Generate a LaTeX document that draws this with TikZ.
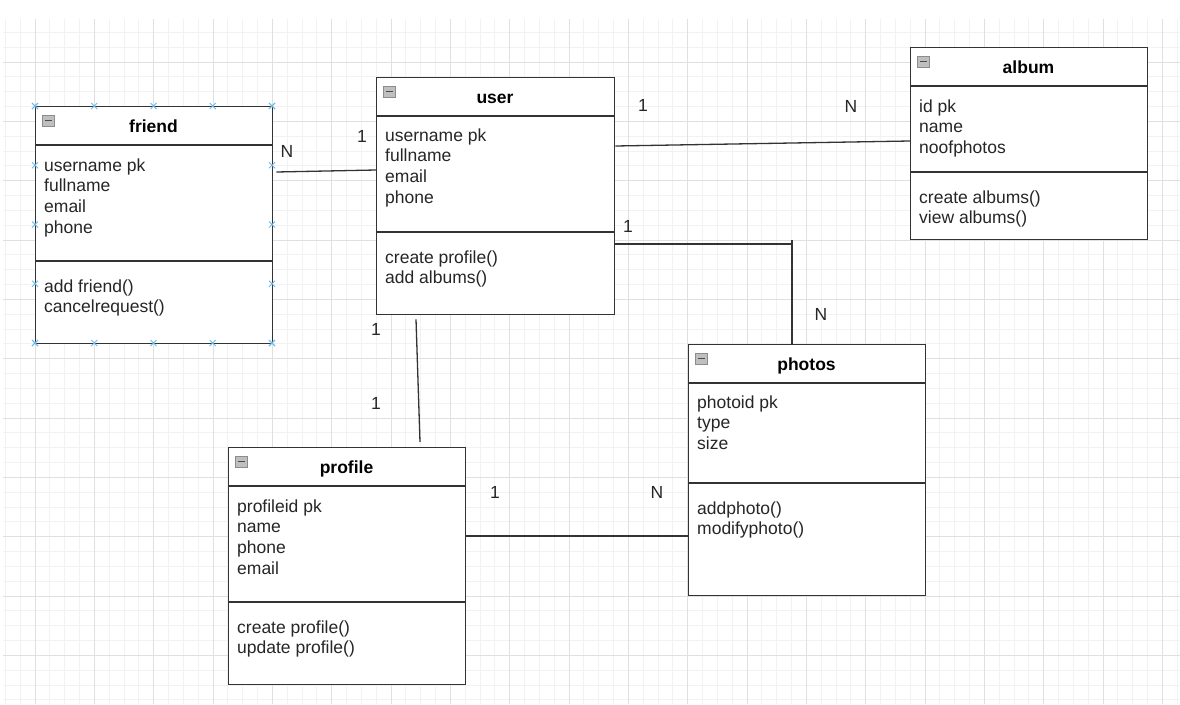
\documentclass[tikz,border=0pt]{standalone}
\usepackage{fontspec}
\setmainfont{Liberation Sans}
\usetikzlibrary{calc}
\definecolor{handleblue}{RGB}{110,185,235}

\tikzset{
  classbox/.style={draw=black!80, line width=1.3pt, fill=white, anchor=north west, inner sep=0pt},
  boxline/.style={draw=black!80, line width=1.3pt},
  title/.style={font=\bfseries\fontsize{17.5}{21}\selectfont, anchor=base, inner sep=0pt},
  attr/.style={font=\fontsize{17.5}{21}\selectfont, text=black!85, anchor=base west, inner sep=0pt},
  mult/.style={font=\fontsize{17.5}{21}\selectfont, text=black!85, inner sep=0pt},
  link/.style={draw=black!80, line width=1.3pt},
  minorgrid/.style={draw=black!5, line width=0.8pt},
  majorgrid/.style={draw=black!12, line width=0.8pt},
  handle/.style={draw=handleblue, line width=1pt},
  iconbox/.style={draw=black!45, fill=black!25, line width=0.6pt}
}

\begin{document}
\begin{tikzpicture}[x=1pt, y=-1pt]
\useasboundingbox (0,0) rectangle (1180,704);
\fill[white] (0,0) rectangle (1180,704);
% grid
\begin{scope}
\clip (3,19) rectangle (1180,704);
\foreach \k in {-2,...,77} \draw[minorgrid] ({35+14.833*\k},19) -- ++(0,685);
\foreach \k in {-3,...,43} \draw[minorgrid] (3,{62+14.833*\k}) -- ++(1177,0);
\foreach \k in {-1,...,19} \draw[majorgrid] ({35+59.333*\k},19) -- ++(0,685);
\foreach \k in {-1,...,11} \draw[majorgrid] (3,{62+59.333*\k}) -- ++(1177,0);
\end{scope}

% classes
\foreach \n/\x/\y/\w/\h/\d in {friend/35/106/237/237/155, user/376/77/238/237/155,
  album/910/47/237/192/125, photos/688/344/237/251/139, profile/228/447/237/237/155} {
  \node[classbox, minimum width=\w, minimum height=\h] (\n) at (\x,\y) {};
  \draw[boxline] ([shift={(0,39)}]\n.north west) -- ([shift={(0,39)}]\n.north east);
  \draw[boxline] ([shift={(0,\d)}]\n.north west) -- ([shift={(0,\d)}]\n.north east);
  \draw[iconbox] ([shift={(7,9)}]\n.north west) rectangle ++(12,11);
  \draw[black!70, line width=1.2pt] ([shift={(9.5,14.5)}]\n.north west) -- ++(7,0);
  \node[title] (\n-title) at ([shift={(\w/2,26)}]\n.north west) {\n};
}

% attributes and methods
\foreach \t [count=\i] in {username pk, fullname, email, phone}
  \node[attr] (friend-a\i) at ([shift={(9,{65+20.7*(\i-1)})}]friend.north west) {\t};
\foreach \t [count=\i] in {add friend(), cancelrequest()}
  \node[attr] (friend-m\i) at ([shift={(9,{186+20.7*(\i-1)})}]friend.north west) {\t};
\foreach \t [count=\i] in {username pk, fullname, email, phone}
  \node[attr] (user-a\i) at ([shift={(9,{64+20.7*(\i-1)})}]user.north west) {\t};
\foreach \t [count=\i] in {create profile(), add albums()}
  \node[attr] (user-m\i) at ([shift={(9,{186+20.7*(\i-1)})}]user.north west) {\t};
\foreach \t [count=\i] in {id pk, name, noofphotos}
  \node[attr] (album-a\i) at ([shift={(9,{65+20.7*(\i-1)})}]album.north west) {\t};
\foreach \t [count=\i] in {create albums(), view albums()}
  \node[attr] (album-m\i) at ([shift={(9,{156+20.7*(\i-1)})}]album.north west) {\t};
\foreach \t [count=\i] in {photoid pk, type, size}
  \node[attr] (photos-a\i) at ([shift={(9,{64+20.7*(\i-1)})}]photos.north west) {\t};
\foreach \t [count=\i] in {addphoto(), modifyphoto()}
  \node[attr] (photos-m\i) at ([shift={(9,{170+20.7*(\i-1)})}]photos.north west) {\t};
\foreach \t [count=\i] in {profileid pk, name, phone, email}
  \node[attr] (profile-a\i) at ([shift={(9,{65+20.7*(\i-1)})}]profile.north west) {\t};
\foreach \t [count=\i] in {create profile(), update profile()}
  \node[attr] (profile-m\i) at ([shift={(9,{186+20.7*(\i-1)})}]profile.north west) {\t};

% selection handles on friend
\foreach \s in {0,59.25,118.5,177.75,237} {
  \draw[handle] ([shift={(\s,0)}]friend.north west) ++(-3,-3) -- ++(6,6) ++(0,-6) -- ++(-6,6);
  \draw[handle] ([shift={(\s,237)}]friend.north west) ++(-3,-3) -- ++(6,6) ++(0,-6) -- ++(-6,6);
  \draw[handle] ([shift={(0,\s)}]friend.north west) ++(-3,-3) -- ++(6,6) ++(0,-6) -- ++(-6,6);
  \draw[handle] ([shift={(237,\s)}]friend.north west) ++(-3,-3) -- ++(6,6) ++(0,-6) -- ++(-6,6);
}

% relations
\coordinate (bend) at ([shift={(104,-100)}]photos.north west);
\draw[link] ([shift={(3,66)}]friend.north east) -- ([shift={(0,93)}]user.north west);
\draw[link] ([shift={(0,69)}]user.north east) -- ([shift={(0,94)}]album.north west);
\draw[link] ([shift={(0,167)}]user.north east) -- (bend);
\draw[link] ([shift={(0,-4)}]bend) -- ([shift={(104,0)}]photos.north west);
\draw[link] ([shift={(40,4)}]user.south west) -- ([shift={(192,-5)}]profile.north west);
\draw[link] ([shift={(0,89)}]profile.north east) -- ([shift={(0,192)}]photos.north west);

% multiplicities
\node[mult] (m-fu-n) at (287,151) {N};
\node[mult] (m-fu-1) at (362,136) {1};
\node[mult] (m-ua-1) at (643,105) {1};
\node[mult] (m-ua-n) at (851,106) {N};
\node[mult] (m-up-1) at (628,226) {1};
\node[mult] (m-up-n) at (821,314) {N};
\node[mult] (m-upr-1) at (376,329) {1};
\node[mult] (m-upr-2) at (376,403) {1};
\node[mult] (m-pp-1) at (495,492) {1};
\node[mult] (m-pp-n) at (657,492) {N};
\end{tikzpicture}
\end{document}
